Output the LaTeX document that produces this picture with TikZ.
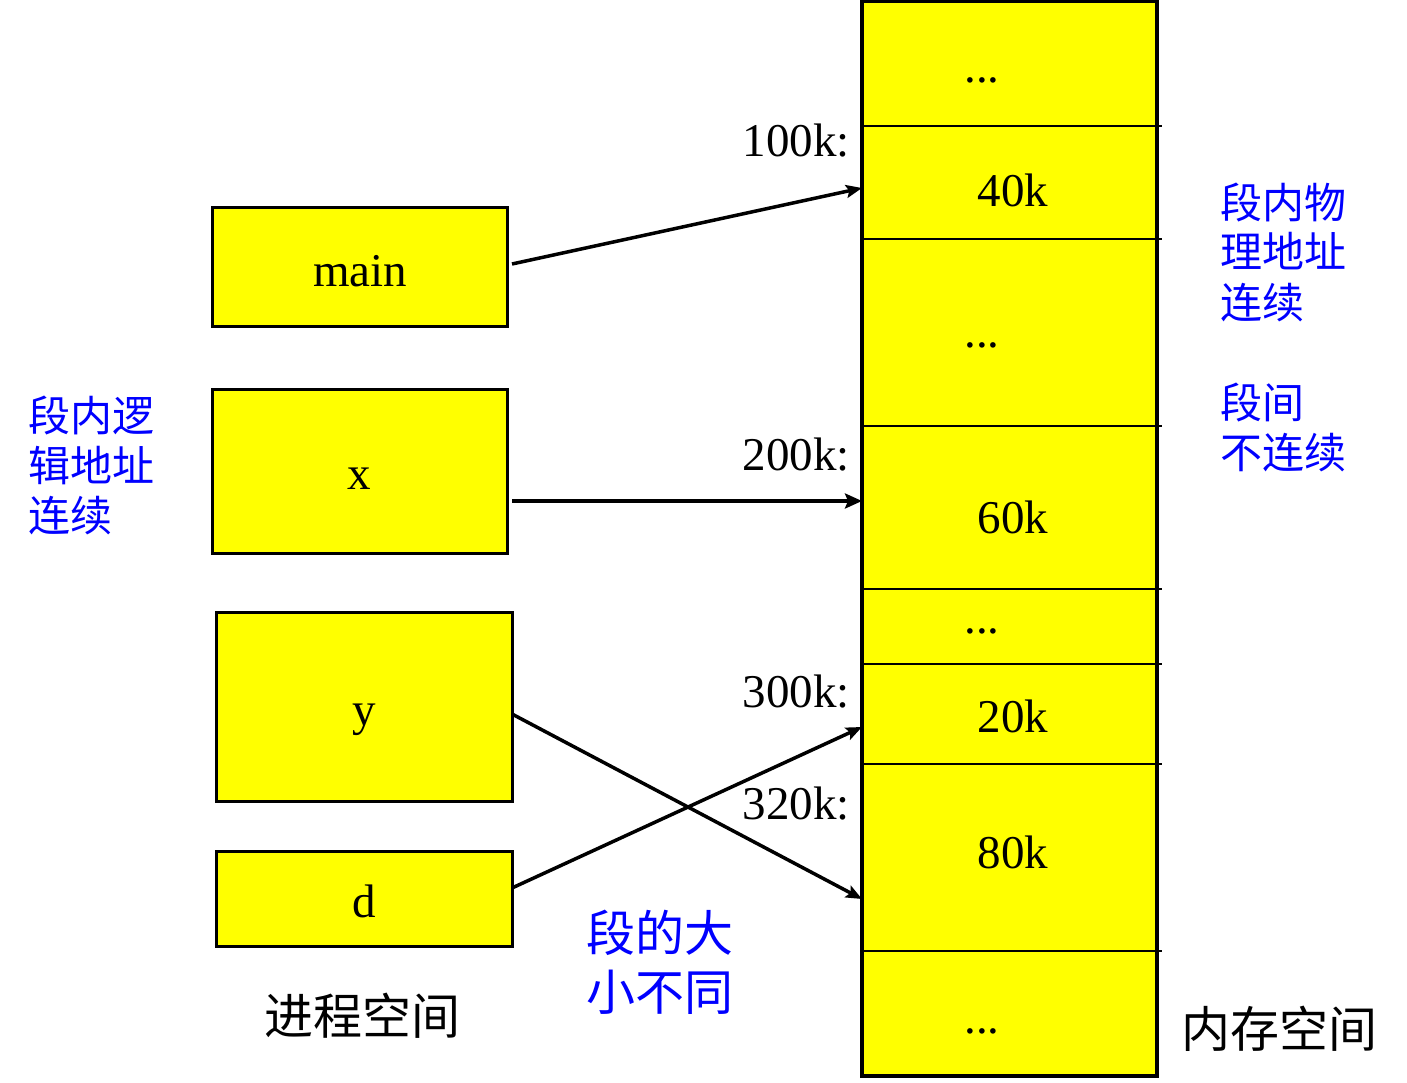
\documentclass[tikz,border=0pt]{standalone}
\usepackage{fontspec}
\setmainfont{Liberation Serif}
\newfontfamily\cjk{Noto Sans CJK SC}
\usetikzlibrary{arrows.meta}
\definecolor{segyellow}{RGB}{255,255,0}
\definecolor{lblblue}{RGB}{0,0,255}
\begin{document}
\begin{tikzpicture}[x=1pt,y=-1pt,
  seg/.style={fill=segyellow,minimum width=295pt,inner sep=0pt,outer sep=0pt},
  pbox/.style={fill=segyellow,draw=black,line width=3pt,inner sep=0pt,outer sep=0pt},
  bigtxt/.style={font=\fontsize{47}{56}\selectfont,anchor=base,inner sep=0pt},
  addr/.style={font=\fontsize{47}{56}\selectfont,anchor=base east,inner sep=0pt},
  bluesmall/.style={font=\cjk\fontsize{42}{50}\selectfont,text=lblblue,anchor=base west,inner sep=0pt},
  bluebig/.style={font=\cjk\fontsize{49}{58}\selectfont,text=lblblue,anchor=base west,inner sep=0pt},
  blacklbl/.style={font=\cjk\fontsize{49}{58}\selectfont,text=black,anchor=base west,inner sep=0pt},
  arr/.style={line width=3.5pt,-{Stealth[length=16pt,width=13pt,inset=3pt]}},
  boldarr/.style={line width=4.5pt,-{Stealth[length=17pt,width=15pt,inset=3pt]}},
  divider/.style={line width=2.5pt}]
\useasboundingbox (0,0) rectangle (1407,1083);

% memory segments
\node[seg,minimum height=125pt] (s1) at (1009.5,63.5) {};
\node[seg,minimum height=113pt] (s2) at (1009.5,182.5) {};
\node[seg,minimum height=187pt] (s3) at (1009.5,332.5) {};
\node[seg,minimum height=163pt] (s4) at (1009.5,507.5) {};
\node[seg,minimum height=75pt] (s5) at (1009.5,626.5) {};
\node[seg,minimum height=100pt] (s6) at (1009.5,714) {};
\node[seg,minimum height=187pt] (s7) at (1009.5,857.5) {};
\node[seg,minimum height=125pt] (s8) at (1009.5,1013.5) {};
\draw[line width=3.5pt] (s1.north west) rectangle (s8.south east);
\foreach \s in {s1,s2,s3,s4,s5,s6,s7}
  \draw[divider] (\s.south west) -- ++(300,0);

% memory texts
\node[bigtxt] (t1) at (982,83) {...};
\node[bigtxt] (t2) at (1013,207) {40k};
\node[bigtxt] (t3) at (982,347) {...};
\node[bigtxt] (t4) at (1013,533) {60k};
\node[bigtxt] (t5) at (982,633) {...};
\node[bigtxt] (t6) at (1013,732) {20k};
\node[bigtxt] (t7) at (1013,868) {80k};
\node[bigtxt] (t8) at (982,1033) {...};

% addresses
\node[addr] (a1) at (850,157) {100k:};
\node[addr] (a2) at (850,470) {200k:};
\node[addr] (a3) at (850,707) {300k:};
\node[addr] (a4) at (850,819) {320k:};

% process segments
\node[pbox,minimum width=295pt,minimum height=118pt] (main) at (359.5,267) {};
\node[pbox,minimum width=295pt,minimum height=164pt] (xb) at (359.5,471) {};
\node[pbox,minimum width=296pt,minimum height=189pt] (yb) at (364,706.5) {};
\node[pbox,minimum width=296pt,minimum height=95pt] (db) at (364,898.5) {};
\node[bigtxt] (tm) at (360,287) {main};
\node[bigtxt] (tx) at (359,489) {x};
\node[bigtxt] (ty) at (364,725) {y};
\node[bigtxt] (td) at (364,917) {d};

% connector end points
\coordinate (mainOut) at ([xshift=5pt,yshift=3pt]main.east);
\coordinate (xOut) at ([xshift=5pt,yshift=-30pt]xb.east);
\coordinate (yOut) at ([yshift=-7.5pt]yb.east);
\coordinate (dOut) at ([yshift=10.5pt]db.east);
\coordinate (s2In) at ([yshift=-5.5pt]s2.west);
\coordinate (s4In) at ([yshift=6.5pt]s4.west);
\coordinate (s6In) at ([yshift=-13pt]s6.west);
\coordinate (s7In) at ([yshift=-41.5pt]s7.west);

\draw[arr] (mainOut) -- (s2In);
\draw[boldarr] (xOut) -- (s4In);
\draw[arr] (yOut) -- (s7In);
\draw[arr] (dOut) -- (s6In);

% labels
\node[bluesmall] (l1) at (28,431) {段内逻};
\node[bluesmall] (l2) at (28,481) {辑地址};
\node[bluesmall] (l3) at (28,531) {连续};
\node[bluesmall] (r1) at (1220,219) {段内物};
\node[bluesmall] (r2) at (1220,268) {理地址};
\node[bluesmall] (r3) at (1220,318) {连续};
\node[bluesmall] (r4) at (1220,418) {段间};
\node[bluesmall] (r5) at (1220,468) {不连续};
\node[bluebig] (m1) at (586,951) {段的大};
\node[bluebig] (m2) at (586,1010) {小不同};
\node[blacklbl] (pspace) at (264,1034) {进程空间};
\node[blacklbl] (mspace) at (1181,1047) {内存空间};
\end{tikzpicture}
\end{document}
